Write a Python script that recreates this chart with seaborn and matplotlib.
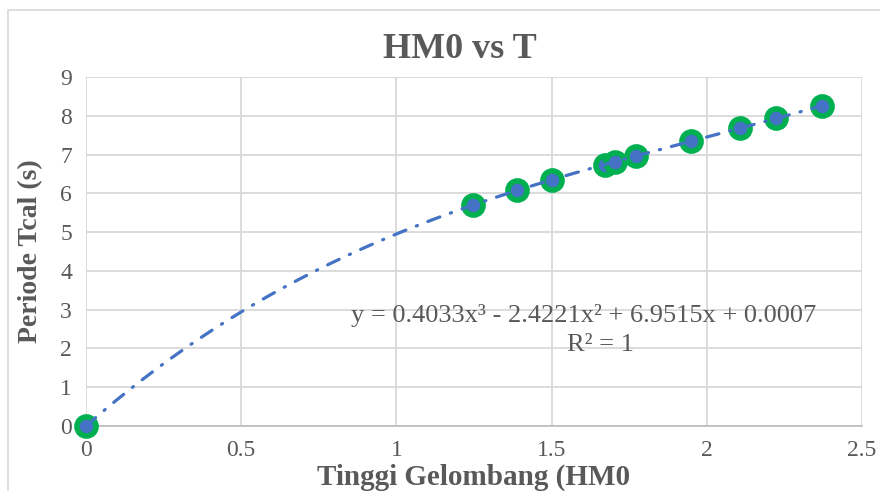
import numpy as np
import pandas as pd
import matplotlib.pyplot as plt
import seaborn as sns
from matplotlib.patches import Rectangle

# --------------------------------------------------
# data
# --------------------------------------------------
hm0 = [0.0, 1.247, 1.389, 1.501, 1.672, 1.704, 1.772, 1.949, 2.107, 2.223, 2.371]
tcal = [0.0, 5.70, 6.09, 6.34, 6.73, 6.81, 6.96, 7.35, 7.68, 7.94, 8.25]
x_ticks = [0, 0.5, 1, 1.5, 2, 2.5]
y_ticks = list(range(0, 10))
equation = "y = 0.4033x³ - 2.4221x² + 6.9515x + 0.0007"
r2_text = "R² = 1"

df = pd.DataFrame({"HM0": hm0, "Tcal": tcal})

# cubic trendline fitted on the points
coef = np.polyfit(df["HM0"], df["Tcal"], 3)
xs = np.linspace(0, max(hm0), 200)
trend = pd.DataFrame({"HM0": xs, "Tcal": np.polyval(coef, xs)})

# --------------------------------------------------
# plotting
# --------------------------------------------------
sns.set_style("white")
plt.rcParams["font.family"] = ["Liberation Serif", "DejaVu Serif"]
grey = "#595959"

fig = plt.figure(figsize=(8.8, 4.91), dpi=100)
ax = fig.add_axes([0.0977, 0.1324, 0.8818, 0.7108])

# outer chart frame
fig.patches.append(Rectangle((8 / 880, -0.1), 1.2, 1.1 - 10 / 491,
                             transform=fig.transFigure, fill=False,
                             edgecolor="#D9D9D9", linewidth=1.2))

sns.scatterplot(data=df, x="HM0", y="Tcal", ax=ax, s=190, color="#4472C4",
                edgecolor="#00B050", linewidth=4, zorder=3, clip_on=False)
sns.lineplot(data=trend, x="HM0", y="Tcal", ax=ax, color="#4472C4", lw=2.3,
             dashes=False, zorder=4, clip_on=False)
ax.lines[-1].set_linestyle((0, (4, 3.5, 0.4, 3.5)))
ax.lines[-1].set_dash_capstyle("round")

ax.set_xlim(0, 2.5)
ax.set_ylim(0, 9)
ax.set_xticks(x_ticks)
ax.set_xticklabels([f"{t:g}" for t in x_ticks])
ax.set_yticks(y_ticks)
ax.grid(True, color="#D9D9D9", linewidth=1.3)
ax.set_axisbelow(True)
for side in ["top", "right", "left"]:
    ax.spines[side].set_visible(False)
ax.spines["bottom"].set_color("#BFBFBF")
ax.spines["bottom"].set_linewidth(1.3)
ax.tick_params(axis="both", length=0, labelsize=17, colors=grey, pad=10)

ax.set_title("HM0 vs T", fontsize=26, fontweight="bold", color=grey, pad=14,
             x=0.482)
ax.set_xlabel("Tinggi Gelombang (HM0", fontsize=21, fontweight="bold",
              color=grey, labelpad=2)
ax.set_ylabel("Periode Tcal (s)", fontsize=20, fontweight="bold",
              color=grey, labelpad=12)

ax.text(1.604, 2.86, equation, fontsize=19, color=grey, ha="center", va="center")
ax.text(1.656, 2.09, r2_text, fontsize=19, color=grey, ha="center", va="center")

plt.savefig("out.png", dpi=100)
